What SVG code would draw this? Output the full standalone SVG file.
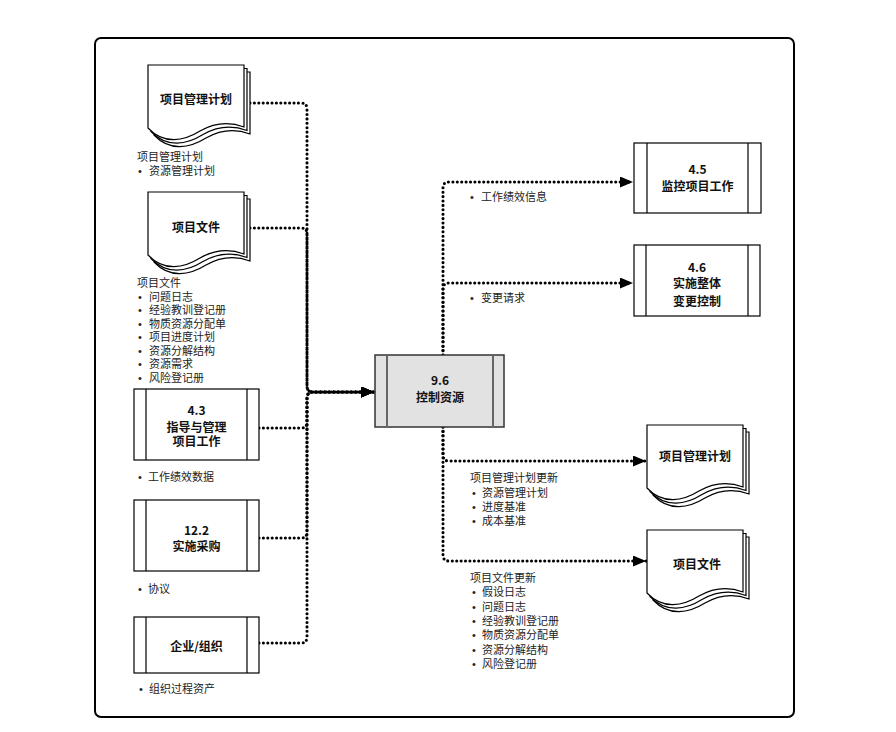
<svg xmlns="http://www.w3.org/2000/svg" xmlns:xlink="http://www.w3.org/1999/xlink" width="896" height="732" viewBox="0 0 896 732">
<style>
  .frame{fill:#fff;stroke:#000;stroke-width:2}
  .pg{fill:#fff;stroke:#000;stroke-width:1.2}
  .box{fill:#fff;stroke:#000;stroke-width:1.2}
  .stripe{fill:none;stroke:#000;stroke-width:1.2}
  .cbox{fill:#e2e2e2;stroke:#333;stroke-width:1.5}
  .cstripe{fill:none;stroke:#666;stroke-width:2}
  .nt{font-family:"Noto Sans CJK SC","Liberation Sans",sans-serif;font-size:12px;font-weight:700;fill:#111;text-anchor:middle}
  .lb{font-family:"Noto Sans CJK SC","Liberation Sans",sans-serif;font-size:11px;fill:#222}
  .bu{font-family:"Liberation Sans",sans-serif;font-size:11px}
  .conn{fill:none;stroke:#000;stroke-width:3.1;stroke-linecap:round;stroke-dasharray:0 4.4}
</style>
<defs>
  <path id="page" d="M0,0 H96 V62 C80,56 66,58 52,66 C36,76 16,80 0,63 Z"/>
  <marker id="arr" viewBox="0 0 13 11" refX="13" refY="5.5" markerWidth="13" markerHeight="11" markerUnits="userSpaceOnUse" orient="auto">
    <path d="M0,0 L13,5.5 L0,11 Z" fill="#000"/>
  </marker>
</defs>
<rect width="896" height="732" fill="#fff"/>
<rect class="frame" x="95" y="38" width="699" height="679" rx="6"/>

<g id="connectors">
  <path class="conn" d="M250,103 H301 Q307,103 307,109 V386 Q307,392 313,392 H374" marker-end="url(#arr)"/>
  <path class="conn" d="M250,228 H301 Q307,228 307,234 V386 Q307,392 313,392 H374" marker-end="url(#arr)"/>
  <path class="conn" d="M259,428 H301 Q307,428 307,422 V398 Q307,392 313,392 H374" marker-end="url(#arr)"/>
  <path class="conn" d="M259,538 H301 Q307,538 307,532 V398 Q307,392 313,392 H374" marker-end="url(#arr)"/>
  <path class="conn" d="M259,643 H301 Q307,643 307,637 V398 Q307,392 313,392 H374" marker-end="url(#arr)"/>
  <path class="conn" d="M443,355 V188 Q443,182 449,182 H633" marker-end="url(#arr)"/>
  <path class="conn" d="M443,355 V289 Q443,283 449,283 H633" marker-end="url(#arr)"/>
  <path class="conn" d="M443,427 V455 Q443,461 449,461 H646" marker-end="url(#arr)"/>
  <path class="conn" d="M443,427 V555 Q443,561 449,561 H646" marker-end="url(#arr)"/>
</g>

<g id="pmp-in" transform="translate(148,65)">
  <use href="#page" class="pg" x="6" y="7"/>
  <use href="#page" class="pg" x="3" y="3.5"/>
  <use href="#page" class="pg"/>
  <text class="nt" x="48" y="39">项目管理计划</text>
</g>
<g id="pmp-in-label" class="lb">
  <text x="137" y="161">项目管理计划</text>
  <text y="175"><tspan x="138" class="bu">•</tspan><tspan x="149">资源管理计划</tspan></text>
</g>

<g id="pd-in" transform="translate(148,192)">
  <use href="#page" class="pg" x="6" y="7"/>
  <use href="#page" class="pg" x="3" y="3.5"/>
  <use href="#page" class="pg"/>
  <text class="nt" x="48" y="40">项目文件</text>
</g>
<g id="pd-in-label" class="lb">
  <text x="137" y="287">项目文件</text>
  <text y="301"><tspan x="138" class="bu">•</tspan><tspan x="149">问题日志</tspan></text>
  <text y="314"><tspan x="138" class="bu">•</tspan><tspan x="149">经验教训登记册</tspan></text>
  <text y="327.5"><tspan x="138" class="bu">•</tspan><tspan x="149">物质资源分配单</tspan></text>
  <text y="341"><tspan x="138" class="bu">•</tspan><tspan x="149">项目进度计划</tspan></text>
  <text y="354.5"><tspan x="138" class="bu">•</tspan><tspan x="149">资源分解结构</tspan></text>
  <text y="368"><tspan x="138" class="bu">•</tspan><tspan x="149">资源需求</tspan></text>
  <text y="381.5"><tspan x="138" class="bu">•</tspan><tspan x="149">风险登记册</tspan></text>
</g>

<g id="p43">
  <rect class="box" x="134" y="389" width="125" height="71"/>
  <path class="stripe" d="M146,389 V460 M247,389 V460"/>
  <text class="nt" x="196.5" y="415">4.3</text>
  <text class="nt" x="196.5" y="432">指导与管理</text>
  <text class="nt" x="196.5" y="446">项目工作</text>
</g>
<text class="lb" y="481"><tspan x="138" class="bu">•</tspan><tspan x="148">工作绩效数据</tspan></text>

<g id="p122">
  <rect class="box" x="134" y="500" width="125" height="71"/>
  <path class="stripe" d="M146,500 V571 M247,500 V571"/>
  <text class="nt" x="196.5" y="535">12.2</text>
  <text class="nt" x="196.5" y="551">实施采购</text>
</g>
<text class="lb" y="593"><tspan x="138" class="bu">•</tspan><tspan x="148">协议</tspan></text>

<g id="eef">
  <rect class="box" x="134" y="617" width="125" height="56"/>
  <path class="stripe" d="M146,617 V673 M247,617 V673"/>
  <text class="nt" x="196.5" y="651">企业/组织</text>
</g>
<text class="lb" y="693"><tspan x="139" class="bu">•</tspan><tspan x="149">组织过程资产</tspan></text>

<g id="p96">
  <rect class="cbox" x="375" y="355" width="129" height="72"/>
  <path class="cstripe" d="M387,355 V427 M493,355 V427"/>
  <text class="nt" x="440" y="385">9.6</text>
  <text class="nt" x="440" y="402">控制资源</text>
</g>

<g id="p45">
  <rect class="box" x="634" y="143" width="127" height="70"/>
  <path class="stripe" d="M647,143 V213 M748,143 V213"/>
  <text class="nt" x="697.5" y="174">4.5</text>
  <text class="nt" x="697.5" y="191">监控项目工作</text>
</g>
<text class="lb" y="201"><tspan x="470" class="bu">•</tspan><tspan x="481">工作绩效信息</tspan></text>

<g id="p46">
  <rect class="box" x="634" y="245" width="126" height="71"/>
  <path class="stripe" d="M646,245 V316 M748,245 V316"/>
  <text class="nt" x="697" y="272">4.6</text>
  <text class="nt" x="697" y="288">实施整体</text>
  <text class="nt" x="697" y="306">变更控制</text>
</g>
<text class="lb" y="302"><tspan x="470" class="bu">•</tspan><tspan x="481">变更请求</tspan></text>

<g id="pmp-out" transform="translate(647,425)">
  <use href="#page" class="pg" x="6" y="7"/>
  <use href="#page" class="pg" x="3" y="3.5"/>
  <use href="#page" class="pg"/>
  <text class="nt" x="48" y="36">项目管理计划</text>
</g>
<g id="pmp-out-label" class="lb">
  <text x="470" y="482">项目管理计划更新</text>
  <text y="497"><tspan x="472" class="bu">•</tspan><tspan x="482">资源管理计划</tspan></text>
  <text y="511"><tspan x="472" class="bu">•</tspan><tspan x="482">进度基准</tspan></text>
  <text y="525"><tspan x="472" class="bu">•</tspan><tspan x="482">成本基准</tspan></text>
</g>

<g id="pd-out" transform="translate(647,530)">
  <use href="#page" class="pg" x="6" y="7"/>
  <use href="#page" class="pg" x="3" y="3.5"/>
  <use href="#page" class="pg"/>
  <text class="nt" x="50" y="39">项目文件</text>
</g>
<g id="pd-out-label" class="lb">
  <text x="470" y="582">项目文件更新</text>
  <text y="596"><tspan x="472" class="bu">•</tspan><tspan x="482">假设日志</tspan></text>
  <text y="610.5"><tspan x="472" class="bu">•</tspan><tspan x="482">问题日志</tspan></text>
  <text y="625"><tspan x="472" class="bu">•</tspan><tspan x="482">经验教训登记册</tspan></text>
  <text y="639"><tspan x="472" class="bu">•</tspan><tspan x="482">物质资源分配单</tspan></text>
  <text y="653.5"><tspan x="472" class="bu">•</tspan><tspan x="482">资源分解结构</tspan></text>
  <text y="668"><tspan x="472" class="bu">•</tspan><tspan x="482">风险登记册</tspan></text>
</g>
</svg>
